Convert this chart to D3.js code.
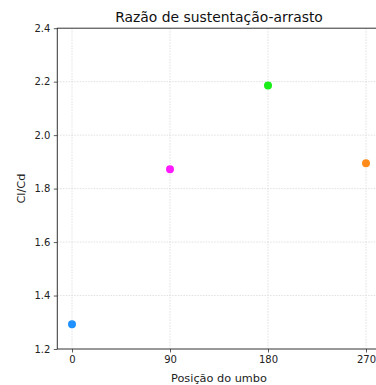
<!DOCTYPE html>
<html>
<head>
<meta charset="utf-8">
<script src="https://cdn.jsdelivr.net/npm/d3@7/dist/d3.min.js"></script>
<style>
  html, body { margin: 0; padding: 0; background: #fff; }
  svg { display: block; font-family: "DejaVu Sans", sans-serif; }
</style>
</head>
<body>
<svg id="chart" width="376" height="385"></svg>
<script>
// Lift-to-drag ratio for each boss position
const positions = [0, 90, 180, 270];
const ratios = [1.293, 1.872, 2.186, 1.895];
const colors = ["#1e90ff", "#ff19ff", "#19ee19", "#ff8c1a"];
const xTicks = [0, 90, 180, 270];
const yTicks = [1.2, 1.4, 1.6, 1.8, 2.0, 2.2, 2.4];

const svg = d3.select("#chart");
const plotL = 57.3, plotT = 28.2, plotR = 380.7, plotB = 349;

const x = d3.scaleLinear().domain([-13.5, 283.5]).range([plotL, plotR]);
const y = d3.scaleLinear().domain([1.2, 2.4]).range([plotB, plotT]);

// grid
const grid = svg.append("g");
grid.selectAll(".gx").data(xTicks).enter().append("line")
  .attr("x1", d => x(d)).attr("x2", d => x(d))
  .attr("y1", plotT).attr("y2", plotB)
  .attr("stroke", "#dadada").attr("stroke-width", 0.8).attr("stroke-dasharray", "1.6,1.2");
grid.selectAll(".gy").data(yTicks.slice(1, -1)).enter().append("line")
  .attr("x1", plotL).attr("x2", plotR)
  .attr("y1", d => y(d)).attr("y2", d => y(d))
  .attr("stroke", "#dadada").attr("stroke-width", 0.8).attr("stroke-dasharray", "1.6,1.2");

// axes
const xAxis = svg.append("g").attr("transform", `translate(0,${plotB})`)
  .call(d3.axisBottom(x).tickValues(xTicks).tickFormat(d3.format("d")).tickSize(3.5).tickPadding(3.5));
const yAxis = svg.append("g").attr("transform", `translate(${plotL},0)`)
  .call(d3.axisLeft(y).tickValues(yTicks).tickFormat(d3.format(".1f")).tickSize(3.5).tickPadding(3.5));
[xAxis, yAxis].forEach(g => {
  g.select(".domain").remove();
  g.selectAll("line").attr("stroke", "#333").attr("stroke-width", 0.8);
  g.selectAll("text").attr("fill", "#222").style("font-size", "10px").style("font-family", "DejaVu Sans");
});

// spines
svg.append("rect").attr("x", plotL).attr("y", plotT)
  .attr("width", plotR - plotL).attr("height", plotB - plotT)
  .attr("fill", "none").attr("stroke", "#333").attr("stroke-width", 1);

// points
svg.append("g").selectAll("circle").data(positions).enter().append("circle")
  .attr("cx", d => x(d)).attr("cy", (d, i) => y(ratios[i]))
  .attr("r", 4).attr("fill", (d, i) => colors[i]);

// labels
svg.append("text").attr("x", (plotL + plotR) / 2).attr("y", 21.5)
  .attr("text-anchor", "middle").style("font-size", "13.9px").attr("fill", "#111")
  .text("Razão de sustentação-arrasto");
svg.append("text").attr("x", (plotL + plotR) / 2).attr("y", 382)
  .attr("text-anchor", "middle").style("font-size", "11.3px").attr("fill", "#222")
  .text("Posição do umbo");
svg.append("text").attr("transform", `translate(25,${(plotT + plotB) / 2}) rotate(-90)`)
  .attr("text-anchor", "middle").style("font-size", "11.3px").attr("fill", "#222")
  .text("Cl/Cd");
</script>
</body>
</html>
